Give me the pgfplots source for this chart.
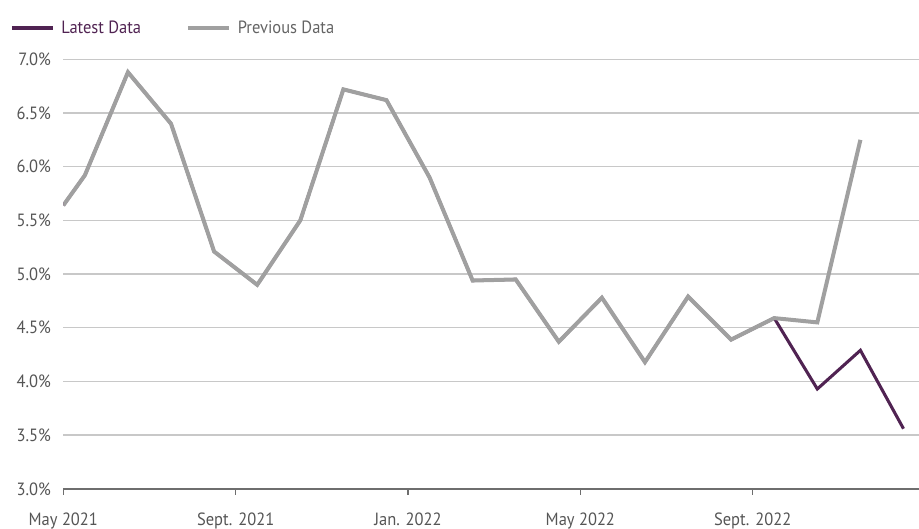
\documentclass[border=0pt]{standalone}
\usepackage{pgfplots}
\pgfplotsset{compat=1.18}
\usepackage{fontspec}
\setmainfont{PT Sans}[FakeStretch=0.93]
\definecolor{latest}{RGB}{80,35,82}
\definecolor{previous}{RGB}{160,160,160}
\definecolor{gridgray}{RGB}{200,200,200}
\definecolor{axisgray}{RGB}{110,110,110}
\definecolor{labelgray}{RGB}{85,85,85}
\definecolor{legendgray}{RGB}{100,100,100}

\pgfplotstableread{
x y
0 5.64
0.5 5.92
1.5 6.88
2.5 6.40
3.5 5.21
4.5 4.90
5.5 5.50
6.5 6.72
7.5 6.62
8.5 5.90
9.5 4.94
10.5 4.95
11.5 4.37
12.5 4.78
13.5 4.18
14.5 4.79
15.5 4.39
16.5 4.59
17.5 3.93
18.5 4.29
19.5 3.56
}\latestdata

\pgfplotstableread{
x y
0 5.64
0.5 5.92
1.5 6.88
2.5 6.40
3.5 5.21
4.5 4.90
5.5 5.50
6.5 6.72
7.5 6.62
8.5 5.90
9.5 4.94
10.5 4.95
11.5 4.37
12.5 4.78
13.5 4.18
14.5 4.79
15.5 4.39
16.5 4.59
17.5 4.55
18.5 6.25
}\previousdata

\begin{document}
\begin{tikzpicture}
\begin{axis}[
  name=ax,
  scale only axis,
  x=32.32pt, y=80.55pt,
  xmin=0, xmax=19.86, ymin=3, ymax=7,
  axis x line*=bottom, axis y line*=left,
  x axis line style={draw=axisgray, line width=1.1pt, -},
  y axis line style={draw=none},
  xtick={0,4,8,12,16},
  xticklabels={May 2021, Sept. 2021, Jan. 2022, May 2022, Sept. 2022},
  xtick style={draw=axisgray, line width=0.9pt},
  tick align=outside, major tick length=4.5pt,
  ytick={3,3.5,...,7},
  ytick style={draw=none},
  yticklabel={\pgfmathprintnumber[fixed,fixed zerofill,precision=1]{\tick}\%},
  /pgf/number format/assume math mode=true,
  ymajorgrids, grid style={gridgray, line width=1pt},
  tick label style={font=\fontsize{13.3}{15}\selectfont, text=labelgray},
  xticklabel style={yshift=-10pt},
  yticklabel style={xshift=-1.3pt},
  legend columns=2,
  legend style={draw=none, fill=none, at={(0,1)}, anchor=west,
    xshift=-40pt, yshift=23.5pt, inner sep=0pt,
    font=\fontsize{13.3}{15}\selectfont,
    /tikz/every odd column/.append style={column sep=3pt},
    /tikz/every even column/.append style={column sep=31.5pt}},
  legend image code/.code={\draw[#1] (0pt,0pt) -- (31pt,0pt);},
  legend cell align=left,
]
\addplot[color=latest, line width=2.3pt, line join=miter] table[x=x,y=y]{\latestdata};
\addlegendentry{\textcolor{latest}{Latest Data}}
\addplot[color=previous, line width=3pt, line join=miter] table[x=x,y=y]{\previousdata};
\addlegendentry{\textcolor{legendgray}{Previous Data}}
\end{axis}
\pgfresetboundingbox
\path ([xshift=-47.5pt, yshift=-30pt]ax.south west) rectangle ([yshift=44.5pt]ax.north east);
\end{tikzpicture}
\end{document}
